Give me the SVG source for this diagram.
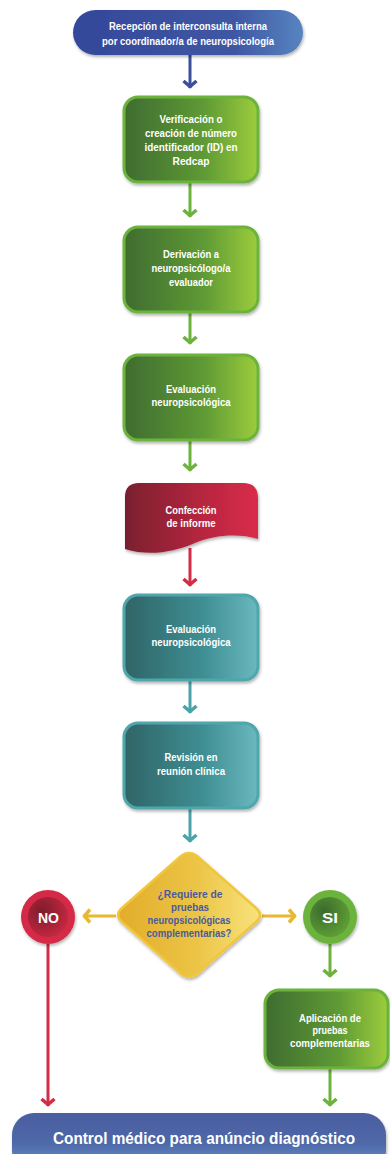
<svg xmlns="http://www.w3.org/2000/svg" width="390" height="1154" viewBox="0 0 390 1154">
<style>
.t{font-family:"Liberation Sans",Arial,sans-serif;font-weight:bold;font-size:10px;fill:#ffffff;text-anchor:middle}
.d{fill:#4a5a9e}
.c{fill:none;stroke-width:3}
</style>
<defs>
<linearGradient id="gBlue" x1="0" y1="0" x2="1" y2="0"><stop offset="0" stop-color="#34479a"/><stop offset="0.7" stop-color="#3f57a3"/><stop offset="1" stop-color="#5784c0"/></linearGradient>
<linearGradient id="gBar" x1="0" y1="0" x2="0" y2="1"><stop offset="0" stop-color="#4a5ea0"/><stop offset="0.5" stop-color="#4f68a8"/><stop offset="1" stop-color="#6a9bd2"/></linearGradient>
<linearGradient id="gGreen" x1="0" y1="0" x2="1" y2="0"><stop offset="0" stop-color="#3e6c2f"/><stop offset="0.6" stop-color="#5f9a35"/><stop offset="1" stop-color="#9ccd3c"/></linearGradient>
<linearGradient id="gTeal" x1="0" y1="0" x2="1" y2="0"><stop offset="0" stop-color="#2f6466"/><stop offset="0.6" stop-color="#3f8f94"/><stop offset="1" stop-color="#6bb9bf"/></linearGradient>
<linearGradient id="gRed" x1="0" y1="0" x2="1" y2="0"><stop offset="0" stop-color="#7a1f2f"/><stop offset="0.6" stop-color="#b8263f"/><stop offset="1" stop-color="#da2c4b"/></linearGradient>
<linearGradient id="gYel" x1="0" y1="0" x2="1" y2="0"><stop offset="0" stop-color="#e2ad2a"/><stop offset="0.55" stop-color="#ecc446"/><stop offset="1" stop-color="#f8e27c"/></linearGradient>
<radialGradient id="gNo" cx="0.35" cy="0.35" r="0.7"><stop offset="0" stop-color="#7e1c2c"/><stop offset="1" stop-color="#c4283f"/></radialGradient>
<radialGradient id="gSi" cx="0.35" cy="0.35" r="0.7"><stop offset="0" stop-color="#3b6a2c"/><stop offset="1" stop-color="#5f9f35"/></radialGradient>
<filter id="sh" x="-20%" y="-20%" width="140%" height="150%"><feDropShadow dx="1" dy="2" stdDeviation="1.8" flood-color="#000" flood-opacity="0.3"/></filter>
<marker id="mB" markerUnits="userSpaceOnUse" markerWidth="20" markerHeight="20" viewBox="-10 -10 20 20" refX="0" refY="0" orient="auto" overflow="visible"><path d="M-7,-6.5 L-1.5,0 L-7,6.5" fill="none" stroke="#3b4f9c" stroke-width="3.5"/></marker>
<marker id="mG" markerUnits="userSpaceOnUse" markerWidth="20" markerHeight="20" viewBox="-10 -10 20 20" refX="0" refY="0" orient="auto" overflow="visible"><path d="M-7,-6.5 L-1.5,0 L-7,6.5" fill="none" stroke="#6cb33e" stroke-width="3.5"/></marker>
<marker id="mR" markerUnits="userSpaceOnUse" markerWidth="20" markerHeight="20" viewBox="-10 -10 20 20" refX="0" refY="0" orient="auto" overflow="visible"><path d="M-7,-6.5 L-1.5,0 L-7,6.5" fill="none" stroke="#d42b46" stroke-width="3.5"/></marker>
<marker id="mT" markerUnits="userSpaceOnUse" markerWidth="20" markerHeight="20" viewBox="-10 -10 20 20" refX="0" refY="0" orient="auto" overflow="visible"><path d="M-7,-6.5 L-1.5,0 L-7,6.5" fill="none" stroke="#4aa3a8" stroke-width="3.5"/></marker>
<marker id="mY" markerUnits="userSpaceOnUse" markerWidth="20" markerHeight="20" viewBox="-10 -10 20 20" refX="0" refY="0" orient="auto" overflow="visible"><path d="M-7,-6.5 L-1.5,0 L-7,6.5" fill="none" stroke="#e8b830" stroke-width="3.5"/></marker>
</defs>
<rect width="390" height="1154" fill="#ffffff"/>

<g id="connectors">
<line class="c" x1="190" y1="55" x2="190" y2="88" stroke="#3b4f9c" marker-end="url(#mB)"/>
<line class="c" x1="190" y1="182" x2="190" y2="217" stroke="#6cb33e" marker-end="url(#mG)"/>
<line class="c" x1="190" y1="312" x2="190" y2="344" stroke="#6cb33e" marker-end="url(#mG)"/>
<line class="c" x1="190" y1="440" x2="190" y2="471" stroke="#6cb33e" marker-end="url(#mG)"/>
<line class="c" x1="190" y1="548" x2="190" y2="586" stroke="#d42b46" marker-end="url(#mR)"/>
<line class="c" x1="190" y1="680" x2="190" y2="713" stroke="#4aa3a8" marker-end="url(#mT)"/>
<line class="c" x1="190" y1="808" x2="190" y2="842" stroke="#4aa3a8" marker-end="url(#mT)"/>
<line class="c" x1="116" y1="916" x2="83" y2="916" stroke="#e8b830" marker-end="url(#mY)"/>
<line class="c" x1="262" y1="916" x2="296" y2="916" stroke="#e8b830" marker-end="url(#mY)"/>
<line class="c" x1="48" y1="944" x2="48" y2="1106" stroke="#d42b46" marker-end="url(#mR)"/>
<line class="c" x1="330" y1="944" x2="330" y2="977" stroke="#6cb33e" marker-end="url(#mG)"/>
<line class="c" x1="330" y1="1068" x2="330" y2="1106" stroke="#6cb33e" marker-end="url(#mG)"/>
</g>

<g id="n-recepcion">
<rect x="73" y="10" width="230" height="45" rx="22.5" fill="url(#gBlue)" filter="url(#sh)"/>
<text class="t" x="188" y="30" textLength="158" lengthAdjust="spacingAndGlyphs">Recepción de interconsulta interna</text>
<text class="t" x="188" y="45" textLength="172" lengthAdjust="spacingAndGlyphs">por coordinador/a de neuropsicología</text>
</g>

<g id="n-verificacion">
<rect x="124" y="97" width="134" height="85" rx="14" fill="url(#gGreen)" stroke="#6cb33e" stroke-width="3" filter="url(#sh)"/>
<text class="t" x="191" y="123" textLength="63" lengthAdjust="spacingAndGlyphs">Verificación o</text>
<text class="t" x="191" y="137" textLength="92" lengthAdjust="spacingAndGlyphs">creación de número</text>
<text class="t" x="191" y="151" textLength="93" lengthAdjust="spacingAndGlyphs">identificador (ID) en</text>
<text class="t" x="191" y="165" textLength="37" lengthAdjust="spacingAndGlyphs">Redcap</text>
</g>

<g id="n-derivacion">
<rect x="124" y="227" width="134" height="85" rx="14" fill="url(#gGreen)" stroke="#6cb33e" stroke-width="3" filter="url(#sh)"/>
<text class="t" x="191" y="258" textLength="56" lengthAdjust="spacingAndGlyphs">Derivación a</text>
<text class="t" x="191" y="272" textLength="79" lengthAdjust="spacingAndGlyphs">neuropsicólogo/a</text>
<text class="t" x="191" y="286" textLength="44" lengthAdjust="spacingAndGlyphs">evaluador</text>
</g>

<g id="n-evaluacion1">
<rect x="124" y="355" width="134" height="85" rx="14" fill="url(#gGreen)" stroke="#6cb33e" stroke-width="3" filter="url(#sh)"/>
<text class="t" x="191" y="393" textLength="50" lengthAdjust="spacingAndGlyphs">Evaluación</text>
<text class="t" x="191" y="406" textLength="79" lengthAdjust="spacingAndGlyphs">neuropsicológica</text>
</g>

<g id="n-confeccion">
<path d="M125,497 Q125,483 139,483 L243,483 Q258,483 258,498 L258,539 C238,533 214,535 195,543 C172,553 148,556 125,549 Z" fill="url(#gRed)" filter="url(#sh)"/>
<text class="t" x="191" y="514" textLength="51" lengthAdjust="spacingAndGlyphs">Confección</text>
<text class="t" x="191" y="527" textLength="49" lengthAdjust="spacingAndGlyphs">de informe</text>
</g>

<g id="n-evaluacion2">
<rect x="124" y="595" width="134" height="85" rx="14" fill="url(#gTeal)" stroke="#4fa6ab" stroke-width="3" filter="url(#sh)"/>
<text class="t" x="191" y="633" textLength="50" lengthAdjust="spacingAndGlyphs">Evaluación</text>
<text class="t" x="191" y="646" textLength="79" lengthAdjust="spacingAndGlyphs">neuropsicológica</text>
</g>

<g id="n-revision">
<rect x="124" y="723" width="134" height="85" rx="14" fill="url(#gTeal)" stroke="#4fa6ab" stroke-width="3" filter="url(#sh)"/>
<text class="t" x="191" y="761" textLength="53" lengthAdjust="spacingAndGlyphs">Revisión en</text>
<text class="t" x="191" y="775" textLength="68" lengthAdjust="spacingAndGlyphs">reunión clínica</text>
</g>

<g id="n-decision">
<path d="M181,856 Q189,850 197,856 L256,908 Q264,915 256,922 L197,974 Q189,980 181,974 L122,922 Q114,915 122,908 Z" fill="url(#gYel)" stroke="#f1c63c" stroke-width="2.5" filter="url(#sh)"/>
<text class="t d" x="190" y="898" textLength="65" lengthAdjust="spacingAndGlyphs">¿Requiere de</text>
<text class="t d" x="190" y="911" textLength="38" lengthAdjust="spacingAndGlyphs">pruebas</text>
<text class="t d" x="189" y="924" textLength="83" lengthAdjust="spacingAndGlyphs">neuropsicológicas</text>
<text class="t d" x="189" y="937" textLength="85" lengthAdjust="spacingAndGlyphs">complementarias?</text>
</g>

<g id="n-no">
<circle cx="48" cy="917" r="27" fill="#d42b46" filter="url(#sh)"/>
<circle cx="48" cy="917" r="20" fill="url(#gNo)"/>
<text class="t" x="48.5" y="923" style="font-size:15px" textLength="21" lengthAdjust="spacingAndGlyphs">NO</text>
</g>

<g id="n-si">
<circle cx="330" cy="917" r="27" fill="#6cb33e" filter="url(#sh)"/>
<circle cx="330" cy="917" r="20" fill="url(#gSi)"/>
<text class="t" x="330" y="923" style="font-size:15px" textLength="16" lengthAdjust="spacingAndGlyphs">SI</text>
</g>

<g id="n-aplicacion">
<rect x="265" y="990" width="123" height="78" rx="14" fill="url(#gGreen)" stroke="#6cb33e" stroke-width="3" filter="url(#sh)"/>
<text class="t" x="330" y="1022" textLength="62" lengthAdjust="spacingAndGlyphs">Aplicación de</text>
<text class="t" x="330" y="1034" textLength="35" lengthAdjust="spacingAndGlyphs">pruebas</text>
<text class="t" x="330" y="1047" textLength="80" lengthAdjust="spacingAndGlyphs">complementarias</text>
</g>

<g id="n-control">
<rect x="12" y="1113" width="374" height="60" rx="22" fill="url(#gBar)" filter="url(#sh)"/>
<text class="t" x="204" y="1144" style="font-size:17px" textLength="302" lengthAdjust="spacingAndGlyphs">Control médico para anúncio diagnóstico</text>
</g>
</svg>
